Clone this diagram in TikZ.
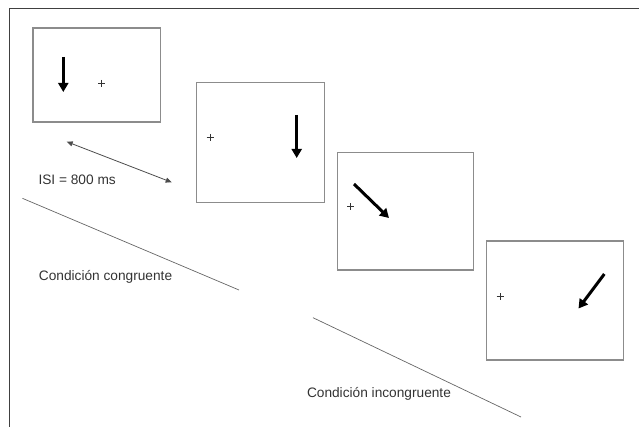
\documentclass[tikz,border=0pt]{standalone}
\usepackage{fontspec}
\setmainfont{Liberation Sans}
\usetikzlibrary{arrows.meta}
\begin{document}
\begin{tikzpicture}[x=1pt,y=-1pt,
  screen/.style={draw=black!45,line width=1.3pt,inner sep=0pt,fill=white},
  stim/.style={line width=3pt,-{Triangle[length=9pt,width=10pt]}},
  fixcross/.style={line width=0.5pt,black!80},
  sep/.style={draw=black!60,line width=0.7pt},
  lbl/.style={font=\fontsize{13.7}{16}\selectfont,text=black!80,inner sep=0pt,anchor=west}]
\useasboundingbox (0,0) rectangle (639,427);
% outer frame
\draw[black!75,line width=1pt] (9,428) -- (9,9) -- (640,9);
% screens
\node[screen,minimum width=127.5pt,minimum height=94pt] (s1) at (96.75,75) {};
\node[screen,minimum width=127.6pt,minimum height=120pt] (s2) at (260.5,142.3) {};
\node[screen,minimum width=136pt,minimum height=117.7pt] (s3) at (405.3,211.2) {};
\node[screen,minimum width=136.6pt,minimum height=119pt] (s4) at (555,300.5) {};
% fixation crosses
\foreach \cx/\cy in {101.7/83.3, 210/137.3, 350.7/206.7, 500/296.7}{
  \draw[fixcross] (\cx-3.5,\cy) -- (\cx+3.5,\cy) (\cx,\cy-3.5) -- (\cx,\cy+3.5);
}
% stimulus arrows
\draw[stim] (63.3,57) -- (63.3,92);
\draw[stim] (296.7,115) -- (296.7,158);
\draw[stim] (354,184) -- (389,218);
\draw[stim] (604.3,274) -- (578.5,308.5);
% ISI arrow
\coordinate (i1) at (66.7,141.7);
\coordinate (i2) at (171.7,182.3);
\draw[black!70,line width=0.8pt,{Triangle[length=6pt,width=5pt]}-{Triangle[length=6pt,width=5pt]}] (i1) -- (i2);
\node[lbl] (isi) at (38.3,180) {ISI = 800 ms};
% separators
\coordinate (a1) at (22.4,198.3);
\coordinate (a2) at (239,290);
\coordinate (b1) at (313,317.7);
\coordinate (b2) at (521,417);
\draw[sep] (a1) -- (a2);
\draw[sep] (b1) -- (b2);
\node[lbl] (cong) at (38.7,276.7) {Condición congruente};
\node[lbl] (incong) at (306.8,394) {Condición incongruente};
\end{tikzpicture}
\end{document}
